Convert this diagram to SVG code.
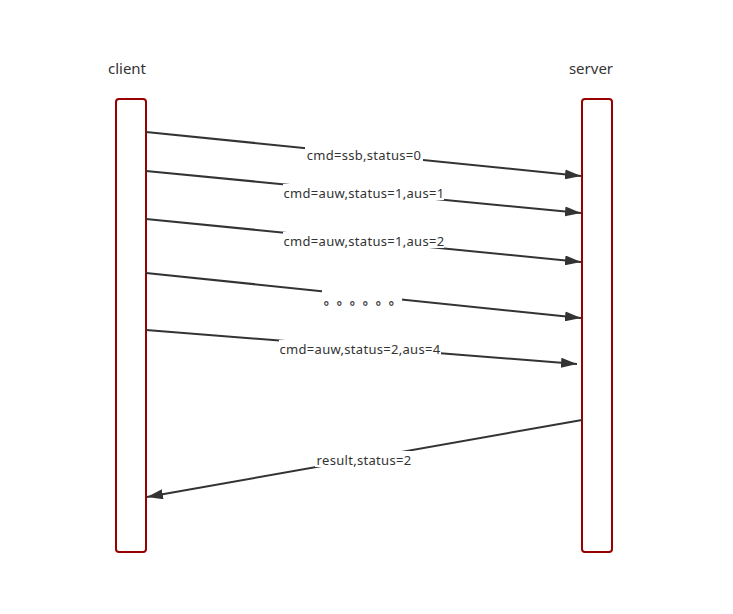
<svg xmlns="http://www.w3.org/2000/svg" width="733" height="614" viewBox="0 0 733 614">
<style>
.bar{fill:#fff;stroke:#990000;stroke-width:2}
.ln{stroke:#333;stroke-width:2;fill:none}
.lbl{font-family:"Noto Sans","Noto Sans CJK SC",sans-serif;font-size:13px;fill:#333;text-anchor:middle;letter-spacing:0.3px}
.dots{font-family:"Noto Sans CJK SC",sans-serif;font-size:13px;fill:#333;stroke:#333;stroke-width:0.3;text-anchor:middle;letter-spacing:6.5px}
.hd{font-family:"Noto Sans",sans-serif;font-size:15px;fill:#333;text-anchor:middle}
.bg{fill:#fff}
</style>
<defs>
<marker id="ah" viewBox="0 0 16 10" refX="16" refY="5" markerWidth="16" markerHeight="10" markerUnits="userSpaceOnUse" orient="auto">
<path d="M0,0 L16,5 L0,10 Z" fill="#333"/>
</marker>
</defs>
<rect width="733" height="614" fill="#fff"/>
<g id="client">
<text class="hd" x="127" y="74">client</text>
<rect class="bar" x="116" y="99" width="30" height="453" rx="3"/>
</g>
<g id="server">
<text class="hd" x="591" y="74">server</text>
<rect class="bar" x="582" y="99" width="30" height="453" rx="3"/>
</g>
<g id="connectors">
<line class="ln" x1="146" y1="132" x2="581" y2="176" marker-end="url(#ah)"/>
<rect class="bg" x="305" y="146" width="118" height="16"/>
<text class="lbl" x="364" y="160">cmd=ssb,status=0</text>
<line class="ln" x1="146" y1="171" x2="581" y2="213" marker-end="url(#ah)"/>
<rect class="bg" x="283" y="184" width="161" height="16"/>
<text class="lbl" x="364" y="198">cmd=auw,status=1,aus=1</text>
<line class="ln" x1="146" y1="219" x2="581" y2="262" marker-end="url(#ah)"/>
<rect class="bg" x="283" y="232" width="161" height="16"/>
<text class="lbl" x="364" y="246">cmd=auw,status=1,aus=2</text>
<line class="ln" x1="146" y1="273" x2="581" y2="318" marker-end="url(#ah)"/>
<rect class="bg" x="322" y="290" width="80" height="16"/>
<text class="dots" x="366" y="304">。。。。。。</text>
<line class="ln" x1="146" y1="330" x2="577" y2="364" marker-end="url(#ah)"/>
<rect class="bg" x="279" y="340" width="162" height="16"/>
<text class="lbl" x="360" y="354">cmd=auw,status=2,aus=4</text>
<line class="ln" x1="582" y1="420" x2="147" y2="497" marker-end="url(#ah)"/>
<rect class="bg" x="315" y="451" width="98" height="16"/>
<text class="lbl" x="364" y="465">result,status=2</text>
</g>
</svg>
